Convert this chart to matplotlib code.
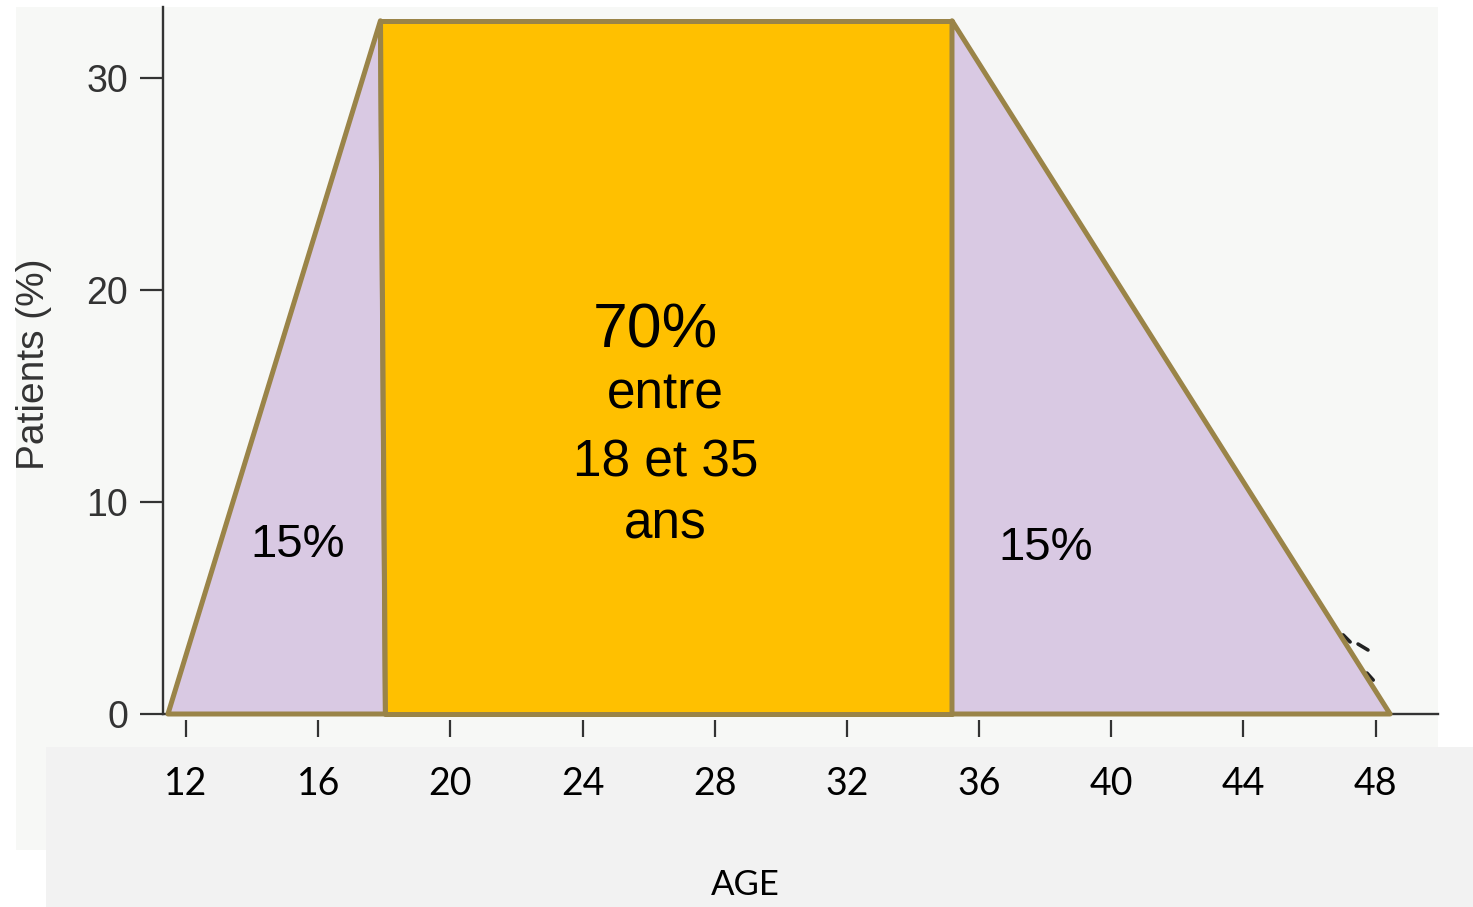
import matplotlib
matplotlib.use("Agg")
import matplotlib.pyplot as plt
from matplotlib.patches import Rectangle

# --- data -------------------------------------------------------------
age_ticks = [12, 16, 20, 24, 28, 32, 36, 40, 44, 48]
pct_ticks = [0, 10, 20, 30]

peak = 32.7                                   # plateau height (% patients)
left_x = [11.45, 17.88, 18.03]                # rising edge (young patients)
left_y = [0, peak, 0]
core_x = [17.88, 35.18, 35.18, 18.03]         # 18-35 year plateau
core_y = [peak, peak, 0, 0]
right_x = [35.18, 48.44, 35.18]               # falling edge (older patients)
right_y = [peak, 0, 0]

tail_x = [[47.02, 47.23], [47.47, 47.77], [47.74, 47.93]]   # remnant of the curve
tail_y = [[3.73, 3.40], [3.30, 3.02], [1.93, 1.60]]

share_side = "15%"
share_core = "70%"
core_lines = ["entre", "18 et 35", "ans"]

# --- figure ------------------------------------------------------------
W, H = 1473, 907
fig = plt.figure(figsize=(W / 100, H / 100), dpi=100)
fig.patch.set_facecolor("white")

# light panel behind the plot and grey band under the axis
fig.add_artist(Rectangle((16 / W, 1 - 850 / H), (1438 - 16) / W, (850 - 7) / H,
                         transform=fig.transFigure, facecolor="#f7f8f6",
                         edgecolor="none", zorder=-2))
fig.add_artist(Rectangle((46 / W, 0), (W - 46) / W, (H - 747) / H,
                         transform=fig.transFigure, facecolor="#f2f2f2",
                         edgecolor="none", zorder=-1))

ax = fig.add_axes([163 / W, 1 - 714 / H, (1438 - 163) / W, (714 - 7) / H])
ax.set_facecolor("none")
ax.set_xlim(11.30, 49.89)
ax.set_ylim(0, 33.35)

for s in ("top", "right"):
    ax.spines[s].set_visible(False)
for s in ("left", "bottom"):
    ax.spines[s].set_color("#333333")
    ax.spines[s].set_linewidth(1.7)

edge = "#9a8448"
lavender = "#d9c9e3"
amber = "#ffc000"
for xs, ys, fc in ((left_x, left_y, lavender),
                   (core_x, core_y, amber),
                   (right_x, right_y, lavender)):
    for p in ax.fill(xs, ys, facecolor=fc, edgecolor=edge, linewidth=3.6,
                     joinstyle="round", zorder=3):
        p.set_clip_on(False)

for xs, ys in zip(tail_x, tail_y):
    ax.plot(xs, ys, color="#222222", lw=2.6, solid_capstyle="round", zorder=2)

# y axis
ax.set_yticks(pct_ticks)
ax.tick_params(axis="y", length=16.5, width=1.6, color="#333333", pad=8.6,
               labelsize=27, labelcolor="#333333")
for t in ax.get_yticklabels():
    t.set_family("Liberation Sans")
ax.set_ylabel("Patients (%)", fontsize=28, family="Liberation Sans",
              color="#333333", va="center")
ax.yaxis.set_label_coords((34 - 163) / 1275, (714 - 364) / 707)

# x axis: labels in the grey band, short marks drawn just below the axis
ax.set_xticks(age_ticks)
ax.set_xticklabels([str(a) for a in age_ticks])
ax.tick_params(axis="x", length=0, pad=37.5, labelsize=27, labelcolor="black")
for t in ax.get_xticklabels():
    t.set_family("Lato")
ax.vlines(age_ticks, -0.28, -1.08, colors="#333333", lw=1.6, clip_on=False)

fig.text(745 / W, 1 - 895 / H, "AGE", ha="center", va="baseline",
         fontsize=25, family="Lato", color="black")

# share annotations
txt = dict(family="Liberation Sans", color="black", ha="center",
           va="baseline", zorder=5)
ax.text(26.19, 17.31, share_core, fontsize=45, **txt)
for line, yb in zip(core_lines, [14.43, 11.18, 8.30]):
    ax.text(26.50, yb, line, fontsize=37, **txt)
ax.text(15.36, 7.41, share_side, fontsize=34, **txt)
ax.text(38.00, 7.26, share_side, fontsize=34, **txt)

fig.savefig("out.png", dpi=100)
